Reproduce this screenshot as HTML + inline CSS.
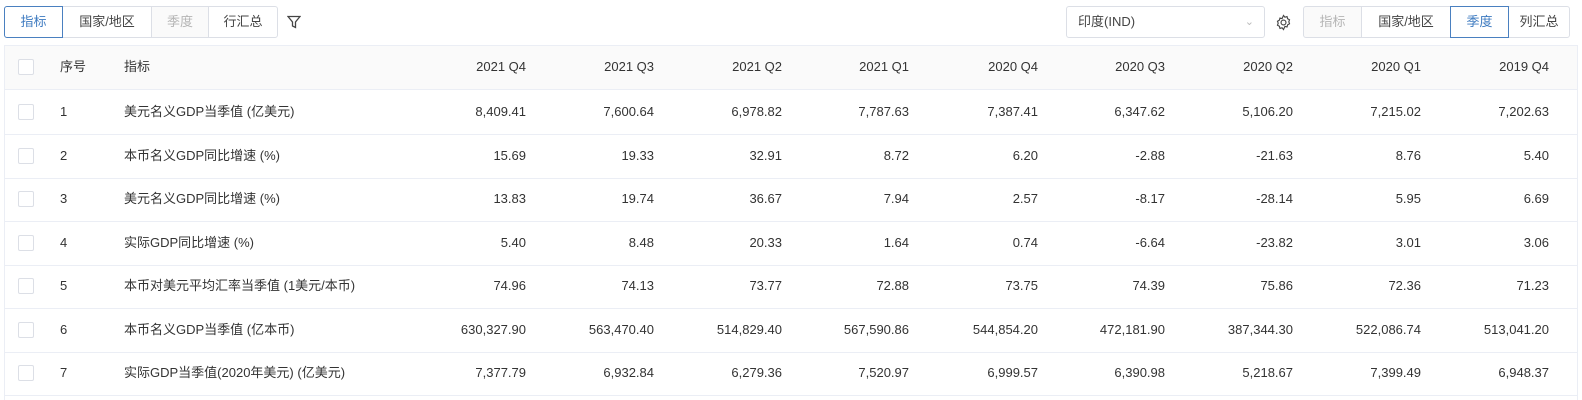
<!DOCTYPE html>
<html><head><meta charset="utf-8"><style>
body{margin:0;width:1582px;height:400px;background:#fff;font-family:"Liberation Sans","Noto Sans CJK SC",sans-serif;color:#333;position:relative;overflow:hidden}
.b{position:absolute;top:6px;height:32px;border:1px solid #dcdfe6;box-sizing:border-box;font-size:13px;line-height:30px;text-align:center;color:#444;background:#fff}
.act{border-color:#4a80c0;color:#3d7ac0;z-index:2}
.dis{color:#b5b5b5;background:#fafafa}
.t{position:absolute;font-size:13px;line-height:16px;height:16px;white-space:nowrap}
.r{position:absolute;text-align:right;font-size:13px;line-height:16px;height:16px;white-space:nowrap}
.line{position:absolute;left:5px;width:1572px;height:1px;background:#ebeef5}
.cb{position:absolute;left:18px;width:14px;height:14px;border:1px solid #dcdfe6;border-radius:2px;background:#fff}
</style></head><body>
<div class="b act" style="left:4px;width:59px;border-radius:3px 0 0 3px">指标</div>
<div class="b" style="left:62px;width:90px">国家/地区</div>
<div class="b dis" style="left:151px;width:58px">季度</div>
<div class="b" style="left:208px;width:70px;border-radius:0 3px 3px 0">行汇总</div>
<svg style="position:absolute;left:287px;top:15px" width="14" height="14" viewBox="0 0 14 14"><path d="M1 1.5H13L8.5 7V12.5L5.5 11V7Z" fill="none" stroke="#444" stroke-width="1.3"/></svg>
<div class="b" style="left:1066px;width:199px;text-align:left;padding-left:11px;border-radius:3px">印度(IND)<span style="position:absolute;right:10px;top:0;color:#bbb;font-size:11px">&#8964;</span></div>
<svg style="position:absolute;left:1275px;top:14px" width="17" height="17" viewBox="0 0 24 24"><path d="M12 2l2 2.5 3-.8.8 3 2.7 1.5-1 2.8 1 2.8-2.7 1.5-.8 3-3-.8L12 22l-2-2.5-3 .8-.8-3L3.5 15.8l1-2.8-1-2.8L6.2 8.7l.8-3 3 .8z" fill="none" stroke="#444" stroke-width="1.6"/><circle cx="12" cy="12" r="3.5" fill="none" stroke="#444" stroke-width="1.6"/></svg>
<div class="b dis" style="left:1303px;width:59px;border-radius:3px 0 0 3px">指标</div>
<div class="b" style="left:1361px;width:90px">国家/地区</div>
<div class="b act" style="left:1450px;width:59px">季度</div>
<div class="b" style="left:1508px;width:62px;border-radius:0 3px 3px 0">列汇总</div>
<div style="position:absolute;left:5px;top:45px;width:1572px;height:45px;background:#fafafa"></div>
<div style="position:absolute;left:4px;top:45px;width:1px;height:355px;background:#ebeef5"></div>
<div style="position:absolute;left:1577px;top:45px;width:1px;height:355px;background:#ebeef5"></div>
<div class="line" style="top:45px"></div>
<div id="g"></div>
<script>
var cols=[526,654,782,909,1038,1165,1293,1421,1549];
var hd=["2021 Q4","2021 Q3","2021 Q2","2021 Q1","2020 Q4","2020 Q3","2020 Q2","2020 Q1","2019 Q4"];
var rows=[
["美元名义GDP当季值 (亿美元)","8,409.41","7,600.64","6,978.82","7,787.63","7,387.41","6,347.62","5,106.20","7,215.02","7,202.63"],
["本币名义GDP同比增速 (%)","15.69","19.33","32.91","8.72","6.20","-2.88","-21.63","8.76","5.40"],
["美元名义GDP同比增速 (%)","13.83","19.74","36.67","7.94","2.57","-8.17","-28.14","5.95","6.69"],
["实际GDP同比增速 (%)","5.40","8.48","20.33","1.64","0.74","-6.64","-23.82","3.01","3.06"],
["本币对美元平均汇率当季值 (1美元/本币)","74.96","74.13","73.77","72.88","73.75","74.39","75.86","72.36","71.23"],
["本币名义GDP当季值 (亿本币)","630,327.90","563,470.40","514,829.40","567,590.86","544,854.20","472,181.90","387,344.30","522,086.74","513,041.20"],
["实际GDP当季值(2020年美元) (亿美元)","7,377.79","6,932.84","6,279.36","7,520.97","6,999.57","6,390.98","5,218.67","7,399.49","6,948.37"]];
var h='';
function row(y,a,n){var c=Math.round(y+22);
h+='<div class="cb" style="top:'+(c-8)+'px"></div>';
h+='<div class="t" style="left:60px;top:'+(c-8)+'px">'+n+'</div>';
h+='<div class="t" style="left:124px;top:'+(c-8)+'px">'+a[0]+'</div>';
for(var i=0;i<9;i++)h+='<div class="r" style="left:'+(cols[i]-150)+'px;width:150px;top:'+(c-8)+'px">'+a[i+1]+'</div>';
h+='<div class="line" style="top:'+Math.round(y+44)+'px"></div>';}
row(45,["指标"].concat(hd),"序号");
for(var k=0;k<7;k++)row(90+k*43.5,rows[k],k+1);
document.getElementById('g').innerHTML=h;
</script>
</body></html>
